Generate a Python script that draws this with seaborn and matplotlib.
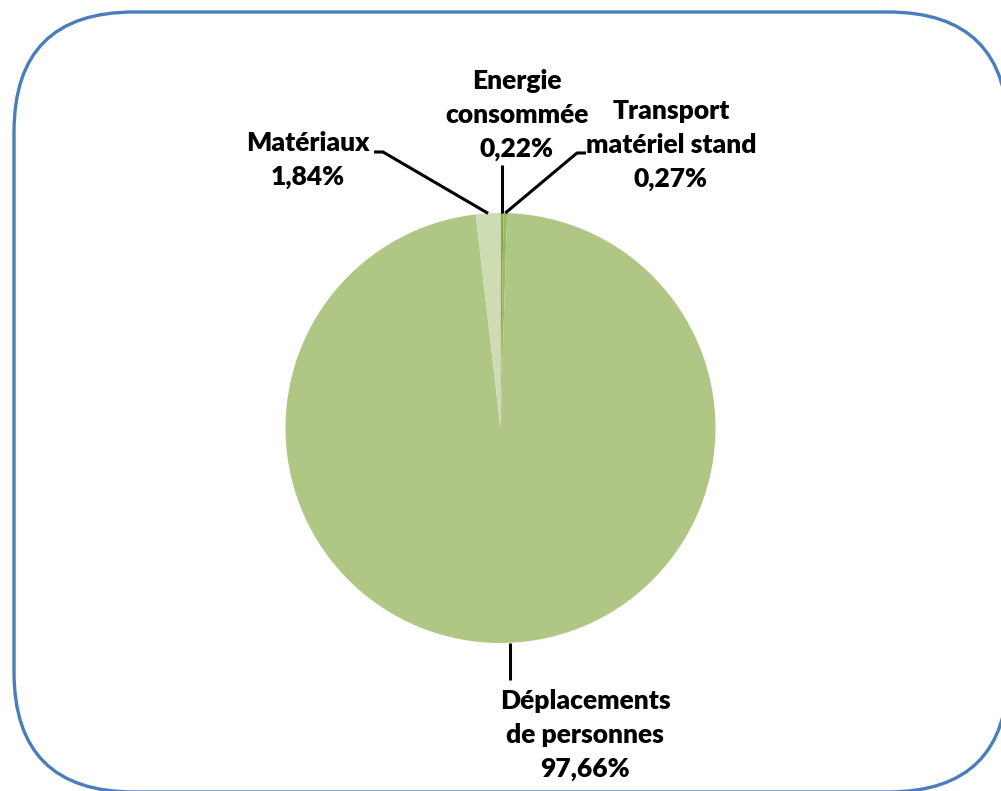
import numpy as np
import matplotlib
matplotlib.use("Agg")
import matplotlib.pyplot as plt
from matplotlib.patches import FancyBboxPatch
import seaborn as sns

# Data (clockwise from 12 o'clock, as in the original Excel pie)
categories = ["Energie\nconsommée", "Transport\nmatériel stand",
              "Déplacements\nde personnes", "Matériaux"]
values = [0.22, 0.27, 97.66, 1.84]
value_labels = ["0,22%", "0,27%", "97,66%", "1,84%"]
colors = ["#86A84E", "#9BBB59", "#AFC685", "#CEDCB4"]

W, H = 1001, 791
sns.set_theme(style="white")
plt.rcParams['font.family'] = ['Lato', 'DejaVu Sans']

fig = plt.figure(figsize=(W / 100, H / 100), dpi=100)
ax = fig.add_axes([0, 0, 1, 1])
ax.set_xlim(0, W)
ax.set_ylim(0, H)
ax.axis('off')

def Y(y):
    # image pixel row -> data y (y axis points up)
    return H - y

# rounded frame, partly cut by the right and bottom edges
frame = FancyBboxPatch((14 + 120, Y(792) + 120), 1008 - 14 - 240, 792 - 12 - 240,
                       boxstyle="round,pad=120", facecolor="white",
                       edgecolor="#4A7EBB", linewidth=2.4, zorder=0)
ax.add_patch(frame)

cx, cy, r = 500.5, Y(428), 215
wedges, _ = ax.pie(values, colors=colors, startangle=90, counterclock=False,
                   center=(cx, cy), radius=r, frame=True,
                   wedgeprops=dict(linewidth=0))
ax.set_xlim(0, W)
ax.set_ylim(0, H)
ax.set_aspect('equal')
ax.axis('off')

# label text centres (pixel coords) and leader line elbows
text_pos = [(517, 115), (671, 145), (585, 735), (308, 160)]
elbows = [None, (577, 153), None, (383, 152)]
ends = [(503, 165), (586, 153), (510, 680), (374, 152)]

for i, w in enumerate(wedges):
    ang = np.deg2rad((w.theta1 + w.theta2) / 2)
    ax_pt = (cx + r * np.cos(ang), cy + r * np.sin(ang))
    tx, ty = text_pos[i]
    ax.text(tx, Y(ty), categories[i] + "\n" + value_labels[i],
            ha='center', va='center', fontsize=19, fontweight='heavy',
            color='black', linespacing=1.47, zorder=5)
    ex, ey = ends[i]
    xs, ys = [ax_pt[0]], [ax_pt[1]]
    if i == 0 or i == 2:
        xs.append(ax_pt[0])
        ys.append(Y(ey))
    else:
        bx, by = elbows[i]
        xs += [bx, ex]
        ys += [Y(by), Y(ey)]
    ax.plot(xs, ys, color='black', linewidth=2.2, solid_capstyle='butt', zorder=4)

fig.savefig("out.png", dpi=100)
